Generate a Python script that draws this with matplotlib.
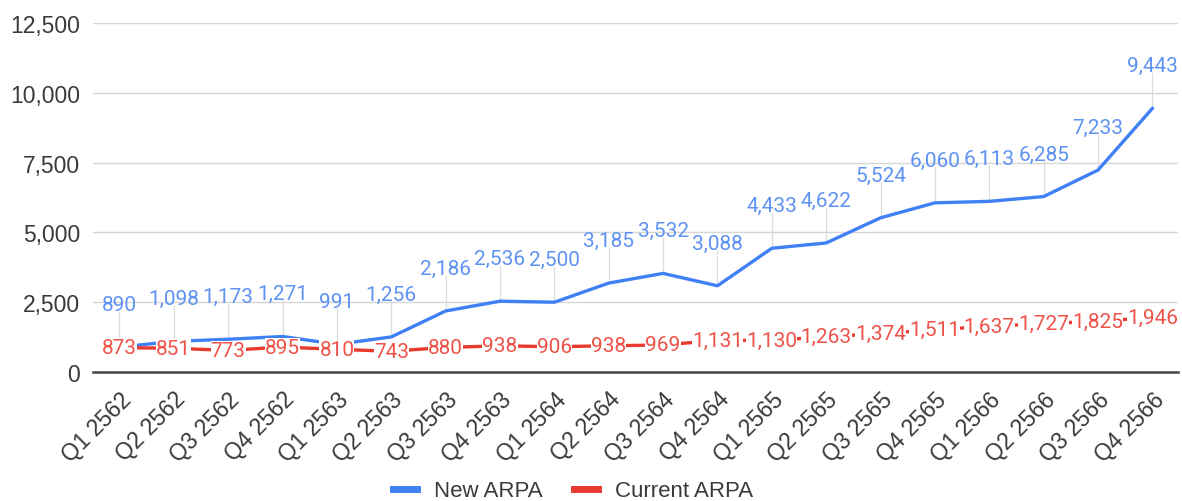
import numpy as np
import matplotlib.pyplot as plt

plt.rcParams['font.family'] = ['Liberation Sans', 'DejaVu Sans']

quarters = ['Q1 2562', 'Q2 2562', 'Q3 2562', 'Q4 2562',
            'Q1 2563', 'Q2 2563', 'Q3 2563', 'Q4 2563',
            'Q1 2564', 'Q2 2564', 'Q3 2564', 'Q4 2564',
            'Q1 2565', 'Q2 2565', 'Q3 2565', 'Q4 2565',
            'Q1 2566', 'Q2 2566', 'Q3 2566', 'Q4 2566']
new_arpa = [890, 1098, 1173, 1271, 991, 1256, 2186, 2536, 2500, 3185,
            3532, 3088, 4433, 4622, 5524, 6060, 6113, 6285, 7233, 9443]
current_arpa = [873, 851, 773, 895, 810, 743, 880, 938, 906, 938,
                969, 1131, 1130, 1263, 1374, 1511, 1637, 1727, 1825, 1946]
y_ticks = [0, 2500, 5000, 7500, 10000, 12500]

blue = '#3f81f5'
red = '#ea3a2f'
blue_txt = '#5e92f3'
red_txt = '#ee5248'
lbl_font = ['Roboto', 'DejaVu Sans']

fig = plt.figure(figsize=(11.82, 5.02), dpi=100)
ax = fig.add_axes([0.079, 0.257, 0.918, 0.695])

x = np.arange(len(quarters))
ax.plot(x, new_arpa, color=blue, lw=2.4, zorder=3)
ax.plot(x, current_arpa, color=red, lw=2.4, zorder=3)

# labels for the new ARPA sit above the points with a thin leader line
off = 1330
for xi, v in zip(x, new_arpa):
    ax.plot([xi, xi], [v + 60, v + off - 60], color='#dcdcdc', lw=0.9, zorder=1)
    ax.text(xi, v + off, f'{v:,}', ha='center', va='baseline', fontsize=15,
            color=blue_txt, family=lbl_font, zorder=5)

# labels for current ARPA sit right on the line
for xi, v in zip(x, current_arpa):
    ax.text(xi, v, f'{v:,}', ha='center', va='center', fontsize=15,
            color=red_txt, family=lbl_font, zorder=4,
            bbox=dict(boxstyle='square,pad=0.0', fc='white', ec='none'))

ax.set_xlim(-0.48, len(quarters) - 0.52)
ax.set_ylim(0, 12500)
ax.set_yticks(y_ticks)
ax.set_yticklabels([f'{t:,}' for t in y_ticks])
ax.set_xticks(x)
ax.set_xticklabels(quarters, rotation=45, ha='right', rotation_mode='anchor')
ax.tick_params(axis='both', length=0, labelcolor='#3a3a3a')
ax.tick_params(axis='y', pad=9.5, labelsize=16.5)
ax.tick_params(axis='x', pad=11, labelsize=16.5)

ax.grid(axis='y', color='#d6d6d6', lw=1)
ax.set_axisbelow(True)
for s in ['top', 'right', 'left']:
    ax.spines[s].set_visible(False)
ax.spines['bottom'].set_color('#444444')
ax.spines['bottom'].set_linewidth(1.8)

h1, = ax.plot([], [], color=blue, lw=5)
h2, = ax.plot([], [], color=red, lw=5)
fig.legend([h1, h2], ['New ARPA', 'Current ARPA'], loc='center',
           bbox_to_anchor=(0.485, 0.020), ncol=2, frameon=False, fontsize=16,
           handlelength=1.08, handletextpad=0.77, columnspacing=1.4,
           labelcolor='#3a3a3a')

fig.savefig('out.png', dpi=100)
